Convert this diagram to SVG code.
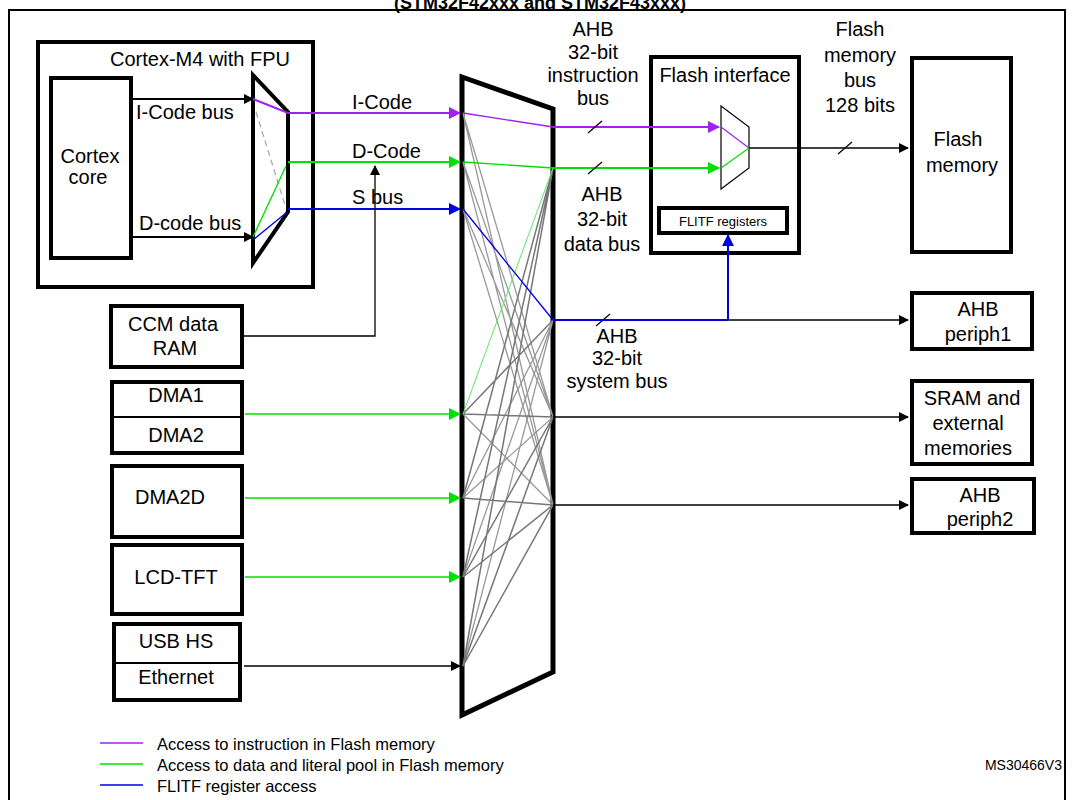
<svg xmlns="http://www.w3.org/2000/svg" width="1075" height="800" viewBox="0 0 1075 800">
<style>
text{font-family:"Liberation Sans",Arial,sans-serif;font-size:20px;fill:#000}
.c{text-anchor:middle}
.lg{font-size:16.5px}
.sm{font-size:13px}
.ms{font-size:14px}
.tt{font-size:18px;font-weight:bold}
.box{fill:#fff;stroke:#000;stroke-width:4}
.g{stroke:#999;stroke-width:1.3;fill:none}
.gd{stroke:#777;stroke-width:1.5;fill:none}
</style>
<defs>
<marker id="ak" markerWidth="10" markerHeight="10" refX="9" refY="5" orient="auto" markerUnits="userSpaceOnUse"><path d="M0,0L10,5L0,10z" fill="#000"/></marker>
<marker id="ap" markerWidth="12" markerHeight="12" refX="11" refY="6" orient="auto" markerUnits="userSpaceOnUse"><path d="M0,0L12,6L0,12z" fill="#a020f0"/></marker>
<marker id="ag" markerWidth="12" markerHeight="12" refX="11" refY="6" orient="auto" markerUnits="userSpaceOnUse"><path d="M0,0L12,6L0,12z" fill="#00e000"/></marker>
<marker id="ab" markerWidth="12" markerHeight="12" refX="11" refY="6" orient="auto" markerUnits="userSpaceOnUse"><path d="M0,0L12,6L0,12z" fill="#0000e0"/></marker>
</defs>
<rect width="1075" height="800" fill="#fff"/>
<text x="540" y="9" class="c tt">(STM32F42xxx and STM32F43xxx)</text>
<rect x="9" y="10" width="1056" height="800" fill="none" stroke="#000" stroke-width="2"/>

<g id="cortex-m4">
<rect class="box" x="38" y="42" width="275" height="245"/>
<text x="200" y="66" class="c">Cortex-M4 with FPU</text>
</g>
<g id="cortex-core">
<rect class="box" x="51" y="78" width="80" height="180"/>
<text x="90" y="163" class="c">Cortex</text><text x="88" y="184" class="c">core</text>
</g>
<g id="cpu-mux">
<path d="M253,75L288,112L288,212L253,263z" fill="#fff" stroke="#000" stroke-width="4"/>
</g>
<g id="bus-matrix">
<path d="M462,77L553,109L553,672L462,715z" fill="#fff" stroke="#000" stroke-width="5"/>
</g>
<g id="flash-interface">
<rect class="box" x="651" y="57" width="148" height="196"/>
<text x="725" y="82" class="c">Flash interface</text>
<path d="M721,106L749,127L749,168L721,189z" fill="#fff" stroke="#000" stroke-width="1.2"/>
</g>
<g id="flitf">
<rect class="box" x="659" y="208" width="128" height="25"/>
<text x="723" y="226" class="c sm">FLITF registers</text>
</g>
<g id="flash-memory">
<rect class="box" x="912" y="58" width="99" height="194"/>
<text x="958" y="146" class="c">Flash</text><text x="962" y="172" class="c">memory</text>
</g>
<g id="ahb-periph1">
<rect class="box" x="912" y="293" width="120" height="56"/>
<text x="978" y="316" class="c">AHB</text><text x="978" y="341" class="c">periph1</text>
</g>
<g id="sram">
<rect class="box" x="912" y="381" width="120" height="83"/>
<text x="972" y="405" class="c">SRAM and</text><text x="968" y="430" class="c">external</text><text x="968" y="455" class="c">memories</text>
</g>
<g id="ahb-periph2">
<rect class="box" x="912" y="479" width="122" height="54"/>
<text x="980" y="502" class="c">AHB</text><text x="980" y="526" class="c">periph2</text>
</g>
<g id="ccm">
<rect class="box" x="111" y="306" width="131" height="61"/>
<text x="173" y="331" class="c">CCM data</text><text x="175" y="355" class="c">RAM</text>
</g>
<g id="dma">
<rect class="box" x="112" y="382" width="130" height="71"/>
<line x1="112" y1="417" x2="242" y2="417" stroke="#000" stroke-width="2"/>
<text x="176" y="402" class="c">DMA1</text><text x="176" y="442" class="c">DMA2</text>
</g>
<g id="dma2d">
<rect class="box" x="112" y="466" width="130" height="71"/>
<text x="170" y="504" class="c">DMA2D</text>
</g>
<g id="lcd">
<rect class="box" x="112" y="545" width="130" height="69"/>
<text x="176" y="584" class="c">LCD-TFT</text>
</g>
<g id="usb-eth">
<rect class="box" x="114" y="624" width="126" height="76"/>
<line x1="114" y1="663" x2="240" y2="663" stroke="#000" stroke-width="2"/>
<text x="176" y="648" class="c">USB HS</text><text x="176" y="684" class="c">Ethernet</text>
</g>

<g id="connectors">
<g class="g">
<path d="M463,113L553,417M463,113L553,505M463,162L553,417M463,162L553,505M463,209L553,417M463,209L553,505"/>
<path d="M463,414L553,505M463,498L553,417M463,498L553,320M463,577L553,320M463,666L553,320"/>
</g>
<g class="gd">
<path d="M463,414L553,417M463,498L553,505M463,414L553,320M463,498L553,168M463,577L553,168M463,577L553,417M463,577L553,505M463,666L553,168M463,666L553,417M463,666L553,505"/>
</g>
<path d="M463,414L553,168" stroke="#66e066" stroke-width="1" fill="none"/>
<line x1="256" y1="112" x2="285" y2="205" stroke="#aaa" stroke-width="1.3" stroke-dasharray="6,4"/>
<line x1="131" y1="99" x2="253" y2="99" stroke="#000" stroke-width="2" marker-end="url(#ak)"/>
<line x1="131" y1="237" x2="253" y2="237" stroke="#000" stroke-width="2" marker-end="url(#ak)"/>
<text x="136" y="119">I-Code bus</text>
<text x="139" y="230">D-code bus</text>
<path d="M253,99L288,113L460,113" stroke="#a020f0" stroke-width="2" fill="none" marker-end="url(#ap)"/>
<path d="M253,237L286,166" stroke="#00e000" stroke-width="1.3" fill="none"/>
<path d="M288,162L460,162" stroke="#00e000" stroke-width="2" fill="none" marker-end="url(#ag)"/>
<path d="M253,240L286,213" stroke="#0000e0" stroke-width="1.3" fill="none"/>
<path d="M288,209L460,209" stroke="#0000e0" stroke-width="2" fill="none" marker-end="url(#ab)"/>
<text x="352" y="109">I-Code</text>
<text x="352" y="158">D-Code</text>
<text x="352" y="204">S bus</text>
<path d="M243,336L375,336L375,166" stroke="#000" stroke-width="1.3" fill="none" marker-end="url(#ak)"/>
<path d="M463,113L553,127" stroke="#a020f0" stroke-width="1.3" fill="none"/>
<path d="M463,162L553,168" stroke="#00e000" stroke-width="1.3" fill="none"/>
<path d="M463,209L553,320" stroke="#0000e0" stroke-width="1.3" fill="none"/>
<path d="M553,127L719,127" stroke="#a020f0" stroke-width="2" fill="none" marker-end="url(#ap)"/>
<path d="M553,168L719,168" stroke="#00e000" stroke-width="2" fill="none" marker-end="url(#ag)"/>
<path d="M721,127L749,148" stroke="#a020f0" stroke-width="1.2"/>
<path d="M721,168L749,148" stroke="#00e000" stroke-width="1.2"/>
<line x1="749" y1="148" x2="908" y2="148" stroke="#000" stroke-width="1.5" marker-end="url(#ak)"/>
<g stroke="#000" stroke-width="1.2">
<line x1="588" y1="133" x2="602" y2="121"/>
<line x1="588" y1="174" x2="602" y2="162"/>
<line x1="838" y1="154" x2="852" y2="142"/>
<line x1="596" y1="326" x2="610" y2="314"/>
</g>
<path d="M553,320L728,320" stroke="#0000e0" stroke-width="2" fill="none"/>
<path d="M728,320L728,235" stroke="#0000e0" stroke-width="2" fill="none" marker-end="url(#ab)"/>
<line x1="728" y1="320" x2="908" y2="320" stroke="#000" stroke-width="1.5" marker-end="url(#ak)"/>
<line x1="553" y1="417" x2="908" y2="417" stroke="#000" stroke-width="1.5" marker-end="url(#ak)"/>
<line x1="553" y1="505" x2="908" y2="505" stroke="#000" stroke-width="1.5" marker-end="url(#ak)"/>
<line x1="245" y1="414" x2="460" y2="414" stroke="#00e000" stroke-width="1.5" marker-end="url(#ag)"/>
<line x1="245" y1="498" x2="460" y2="498" stroke="#00e000" stroke-width="1.5" marker-end="url(#ag)"/>
<line x1="245" y1="577" x2="460" y2="577" stroke="#00e000" stroke-width="1.5" marker-end="url(#ag)"/>
<line x1="244" y1="666" x2="460" y2="666" stroke="#000" stroke-width="1.3" marker-end="url(#ak)"/>
</g>

<text x="593" y="36" class="c">AHB</text><text x="593" y="59" class="c">32-bit</text><text x="593" y="82" class="c">instruction</text><text x="593" y="105" class="c">bus</text>
<text x="602" y="201" class="c">AHB</text><text x="602" y="226" class="c">32-bit</text><text x="602" y="251" class="c">data bus</text>
<text x="617" y="343" class="c">AHB</text><text x="617" y="365" class="c">32-bit</text><text x="617" y="388" class="c">system bus</text>
<text x="860" y="36" class="c">Flash</text><text x="860" y="62" class="c">memory</text><text x="860" y="87" class="c">bus</text><text x="860" y="112" class="c">128 bits</text>

<g id="legend">
<line x1="100" y1="743" x2="143" y2="743" stroke="#a020f0" stroke-width="1.5"/>
<line x1="100" y1="764" x2="143" y2="764" stroke="#00e000" stroke-width="1.5"/>
<line x1="100" y1="785" x2="143" y2="785" stroke="#0000e0" stroke-width="1.5"/>
<text x="157" y="750" class="lg">Access to instruction in Flash memory</text>
<text x="157" y="771" class="lg">Access to data and literal pool in Flash memory</text>
<text x="157" y="792" class="lg">FLITF register access</text>
<text x="1062" y="770" text-anchor="end" class="ms">MS30466V3</text>
</g>
</svg>
